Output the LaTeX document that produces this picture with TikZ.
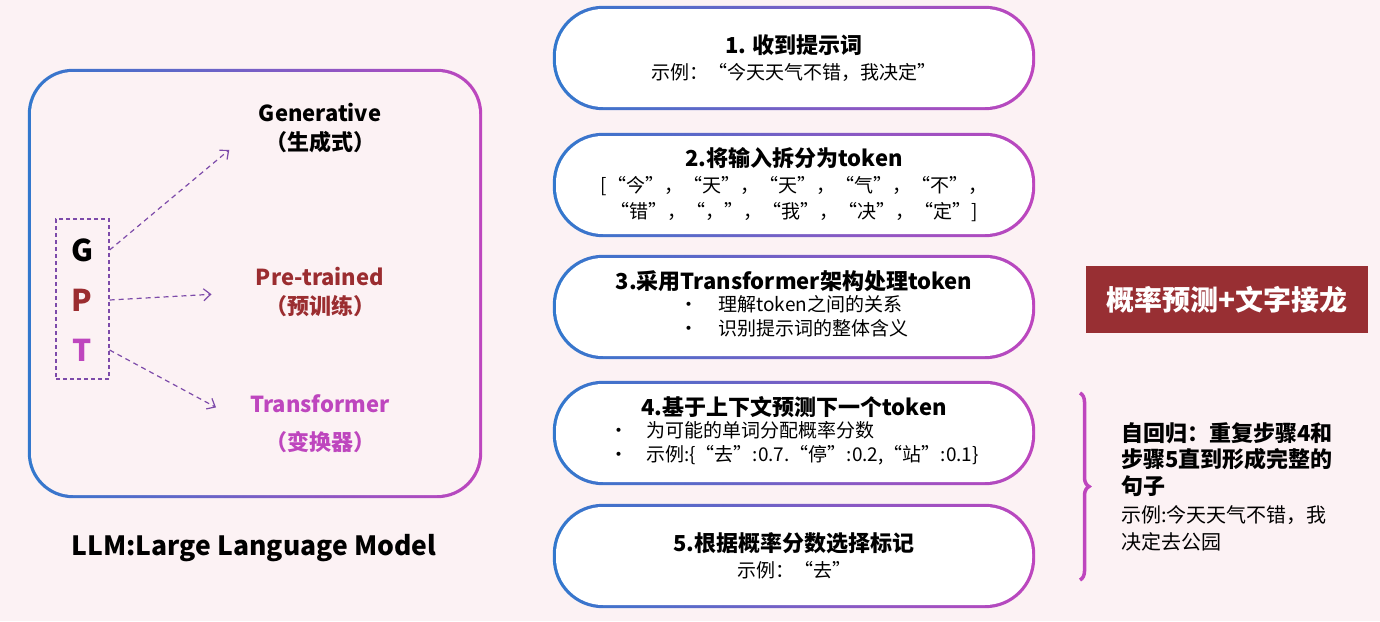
\documentclass[tikz,border=0pt]{standalone}
\usepackage{fontspec}
\setmainfont{Noto Sans CJK SC}
\usepackage{tikz}
\usetikzlibrary{arrows.meta, positioning, backgrounds, calc, decorations.pathreplacing}
\usepackage{xcolor}
\definecolor{bgpink}{RGB}{252,242,244}
\definecolor{edgeblue}{RGB}{50,120,205}
\definecolor{edgemagenta}{RGB}{190,70,190}
\definecolor{gptpurple}{RGB}{125,75,170}
\definecolor{darkred}{RGB}{155,45,48}
\definecolor{boxred}{RGB}{152,47,51}
\newcommand{\fsz}[2]{\fontsize{#1}{#2}\selectfont}
\newcommand{\steptitle}[1]{{\bfseries\fsz{22}{26}#1}}

\tikzset{
  stepbox/.style={minimum width=476pt, minimum height=98pt, fill=white,
    rounded corners=47pt, align=center, inner sep=0pt, font=\fsz{19}{26}},
  lbl/.style={align=center, font=\bfseries\fsz{22}{29}},
  letter/.style={font=\bfseries\fsz{30}{30}, inner sep=0pt},
  gptarrow/.style={draw=gptpurple, line width=1.2pt, dash pattern=on 5pt off 4pt,
    -{Straight Barb[length=7pt, width=12pt]}},
  brace/.style={draw=edgemagenta, line width=3.5pt,
    decorate, decoration={brace, amplitude=9pt}}
}

\begin{document}
\begin{tikzpicture}[x=1pt, y=-1pt]
    % left box: GPT
    \node[minimum width=448pt, minimum height=423pt, fill=bgpink,
      rounded corners=42pt] (llm) at (255,283.5) {};
    \node[draw=gptpurple, line width=1.2pt, dash pattern=on 4pt off 3pt,
      minimum width=53pt, minimum height=160pt] (gpt) at (82.5,299) {};
    \node[letter] (G) at (82,250) {G};
    \node[letter, text=darkred] (P) at (82,300) {P};
    \node[letter, text=edgemagenta] (T) at (82,350) {T};

    \node[lbl] (gen) at (320,128) {Generative\\（生成式）};
    \node[lbl, text=darkred] (pre) at (320,292) {Pre-trained\\（预训练）};
    \node[lbl, text=edgemagenta] (tra) at (320,424) {Transformer\\[9pt]（变换器）};

    \draw[gptarrow, shorten >=34pt] (gpt.east |- G) -- (gen.west);
    \draw[gptarrow, shorten >=41pt] (gpt.east |- P) -- (pre.west);
    \draw[gptarrow, shorten >=35pt] (gpt.east |- T) -- (tra.west);

    \node[font=\bfseries\fsz{26.5}{30}] (llmname) at (254,548) {LLM:Large Language Model};

    % steps
    \node[stepbox] (s1) at (794,58)
      {\steptitle{1. 收到提示词}\\ 示例：“今天天气不错，我决定”};
    \node[stepbox] (s2) at (794,185)
      {\steptitle{2.将输入拆分为token}\\ {[}“今”，“天”，“天”，“气”，“不”，\\ “错”，“，”，“我”，“决”，“定”{]}};
    \node[stepbox] (s3) at (794,307)
      {\steptitle{3.采用Transformer架构处理token}\\
       \begin{tabular}{@{}l@{\hspace{20pt}}l@{}}•&理解token之间的关系\\[-2pt]•&识别提示词的整体含义\end{tabular}};
    \node[stepbox] (s4) at (794,433)
      {\steptitle{4.基于上下文预测下一个token}\\
       \begin{tabular}{@{}l@{\hspace{18pt}}l@{}}•&为可能的单词分配概率分数\\[-2pt]•&示例:\{“去”:0.7.“停":0.2,“站":0.1\}\end{tabular}};
    \node[stepbox] (s5) at (794,556)
      {\steptitle{5.根据概率分数选择标记}\\ 示例：“去”};

    % right side
    \node[fill=boxred, text=white, font=\bfseries\fsz{28}{30},
      minimum width=282pt, minimum height=67pt] (sum) at (1227,299.5) {概率预测+文字接龙};
    \draw[brace] (1080,393) -- (1080,580);
    \node[anchor=north west, align=left, inner sep=0pt, font=\fsz{22}{26.5}] (auto) at (1121,422)
      {{\bfseries 自回归：重复步骤4和}\\ {\bfseries 步骤5直到形成完整的}\\ {\bfseries 句子}\\[2pt] {\fsz{20}{25}示例:今天天气不错，我}\\ {\fsz{20}{25}决定去公园}};

    % gradient outlines and page
    \begin{scope}[on background layer]
      \fill[bgpink] (0,0) rectangle (1380,621);
      \foreach \n/\r in {s1/50,s2/50,s3/50,s4/50,s5/50,llm/45}
        \shade[left color=edgeblue, right color=edgemagenta, rounded corners=\r pt]
          ($(\n.south west)+(-3,3)$) rectangle ($(\n.north east)+(3,-3)$);
    \end{scope}
  \end{tikzpicture}
\end{document}
